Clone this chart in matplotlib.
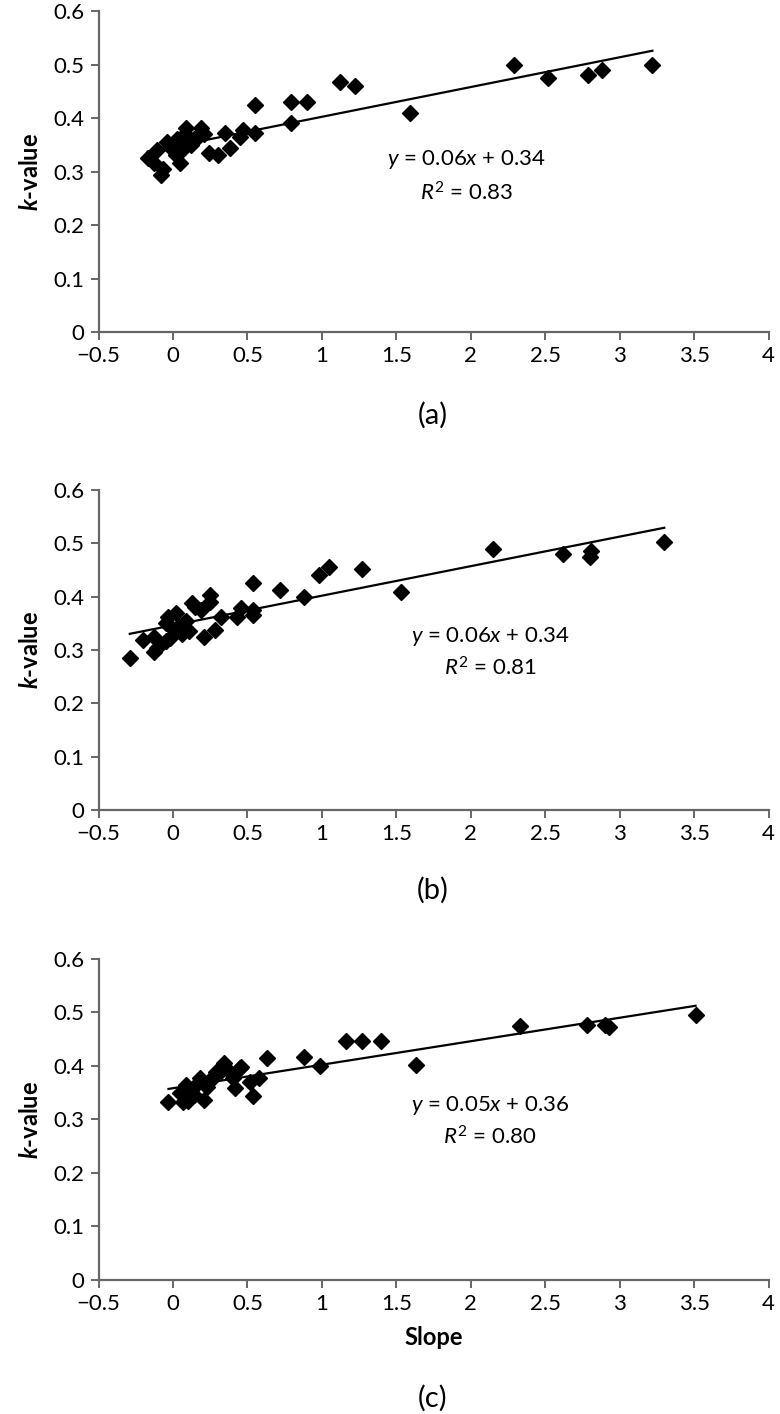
import matplotlib
matplotlib.use("Agg")
import matplotlib.pyplot as plt
import numpy as np

plt.rcParams['font.family'] = ['Lato', 'DejaVu Sans']
plt.rcParams['mathtext.fontset'] = 'custom'
plt.rcParams['mathtext.rm'] = 'Lato'
plt.rcParams['mathtext.it'] = 'Lato:italic'
plt.rcParams['mathtext.bf'] = 'Lato:italic:bold'

# panel (a)
slope_a = [-0.17, -0.13, -0.11, -0.08, -0.07, -0.04, -0.02, 0.00, 0.02, 0.03,
           0.05, 0.06, 0.08, 0.09, 0.10, 0.12, 0.14, 0.16, 0.19, 0.21,
           0.24, 0.30, 0.35, 0.38, 0.45, 0.47, 0.55, 0.55, 0.79, 0.79,
           0.90, 1.12, 1.22, 1.59, 2.29, 2.52, 2.79, 2.88, 3.22]
k_a = [0.325, 0.315, 0.340, 0.293, 0.305, 0.356, 0.345, 0.350, 0.330, 0.360,
       0.315, 0.340, 0.370, 0.381, 0.355, 0.350, 0.360, 0.362, 0.381, 0.370,
       0.334, 0.331, 0.372, 0.344, 0.365, 0.378, 0.425, 0.372, 0.430, 0.390,
       0.430, 0.467, 0.460, 0.410, 0.500, 0.475, 0.480, 0.490, 0.500]

# panel (b)
slope_b = [-0.29, -0.20, -0.13, -0.13, -0.11, -0.05, -0.05, -0.03, -0.02, 0.00,
           0.02, 0.04, 0.06, 0.09, 0.11, 0.13, 0.15, 0.19, 0.21, 0.25,
           0.25, 0.28, 0.32, 0.43, 0.46, 0.54, 0.54, 0.54, 0.72, 0.88,
           0.98, 1.05, 1.27, 1.53, 2.15, 2.62, 2.80, 2.81, 3.30]
k_b = [0.285, 0.319, 0.297, 0.325, 0.303, 0.316, 0.350, 0.362, 0.322, 0.340,
       0.369, 0.345, 0.330, 0.355, 0.335, 0.388, 0.380, 0.375, 0.325, 0.403,
       0.390, 0.338, 0.362, 0.362, 0.378, 0.375, 0.365, 0.425, 0.413, 0.400,
       0.440, 0.455, 0.451, 0.408, 0.490, 0.480, 0.475, 0.485, 0.503]

# panel (c)
slope_c = [-0.03, 0.05, 0.07, 0.09, 0.10, 0.12, 0.14, 0.15, 0.18, 0.20,
           0.21, 0.23, 0.25, 0.27, 0.29, 0.32, 0.34, 0.36, 0.40, 0.42,
           0.45, 0.46, 0.52, 0.54, 0.58, 0.63, 0.88, 0.99, 1.16, 1.27,
           1.40, 1.63, 2.33, 2.78, 2.90, 2.93, 3.51]
k_c = [0.333, 0.349, 0.333, 0.364, 0.335, 0.355, 0.346, 0.362, 0.377, 0.370,
       0.336, 0.360, 0.371, 0.380, 0.389, 0.390, 0.405, 0.395, 0.377, 0.358,
       0.396, 0.399, 0.370, 0.343, 0.377, 0.414, 0.417, 0.400, 0.447, 0.447,
       0.447, 0.402, 0.475, 0.477, 0.476, 0.473, 0.495]

equations = [r'$y$ = 0.06$x$ + 0.34', r'$y$ = 0.06$x$ + 0.34', r'$y$ = 0.05$x$ + 0.36']
r2_texts = [r'$R^2$ = 0.83', r'$R^2$ = 0.81', r'$R^2$ = 0.80']
panel_names = ['(a)', '(b)', '(c)']
eq_pos = [(1.97, 0.322, 0.26), (2.13, 0.325, 0.266), (2.13, 0.327, 0.268)]

xs = [slope_a, slope_b, slope_c]
ys = [k_a, k_b, k_c]

fig = plt.figure(figsize=(7.8, 14.14), dpi=100)
boxes = [(0.1263, 0.7652, 0.859, 0.2270),
         (0.1263, 0.4272, 0.859, 0.2263),
         (0.1263, 0.0948, 0.859, 0.2270)]
label_y = [0.7065, 0.3706, 0.0113]
axcol = '#666666'

for i in range(3):
    ax = fig.add_axes(boxes[i])
    x = np.array(xs[i])
    y = np.array(ys[i])
    ax.plot(x, y, linestyle='none', marker='D', markersize=8.6,
            color='black', zorder=3)
    m, b = np.polyfit(x, y, 1)
    xl = np.array([x.min(), x.max()])
    ax.plot(xl, m * xl + b, color='black', linewidth=1.6, zorder=2)

    ax.set_xlim(-0.5, 4)
    ax.set_ylim(0, 0.6)
    ax.set_xticks(np.arange(-0.5, 4.01, 0.5))
    ax.set_xticklabels(['\u22120.5', '0', '0.5', '1', '1.5', '2', '2.5', '3', '3.5', '4'])
    ax.set_yticks(np.arange(0, 0.61, 0.1))
    ax.set_yticklabels(['0', '0.1', '0.2', '0.3', '0.4', '0.5', '0.6'])
    for s in ['top', 'right']:
        ax.spines[s].set_visible(False)
    for s in ['left', 'bottom']:
        ax.spines[s].set_color(axcol)
        ax.spines[s].set_linewidth(1.6)
    ax.tick_params(axis='both', direction='out', length=6, width=1.4,
                   color=axcol, labelsize=16, labelcolor='black', pad=4)

    ax.set_ylabel(r'$\mathbf{k}$-value', fontsize=17, fontweight='bold')
    ax.yaxis.set_label_coords(-0.085, 0.5)

    ex, ey, ry = eq_pos[i]
    ax.text(ex, ey, equations[i], ha='center', va='center', fontsize=16)
    ax.text(ex, ry, r2_texts[i], ha='center', va='center', fontsize=16)

    if i == 2:
        ax.set_xlabel('Slope', fontsize=17, fontweight='bold', labelpad=9)

    fig.text(0.555, label_y[i], panel_names[i], ha='center', va='center', fontsize=21)

fig.savefig('out.png', dpi=100)
